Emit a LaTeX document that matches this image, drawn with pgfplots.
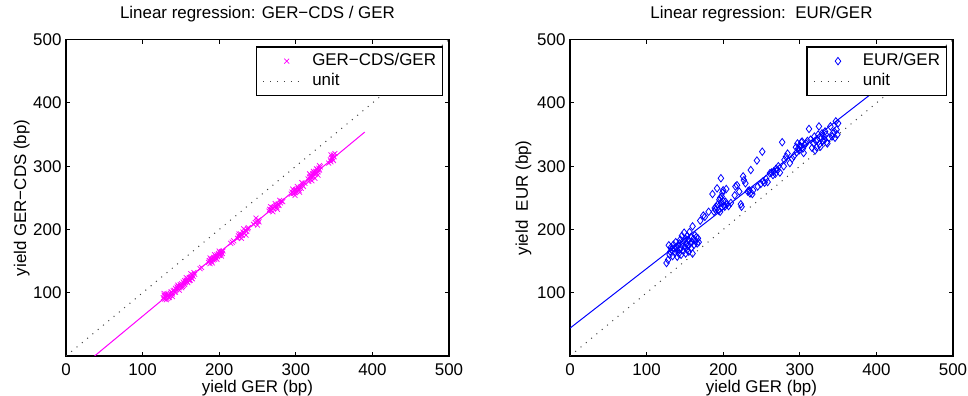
\documentclass[border=0pt]{standalone}
\usepackage{fontspec}
\setmainfont{Liberation Sans}
\usepackage{pgfplots}
\pgfplotsset{compat=1.18}
\definecolor{mmag}{RGB}{255,0,255}
\definecolor{mblue}{RGB}{0,0,255}
\pgfplotsset{
 myaxis/.style={
  scale only axis, width=287.25pt, height=237.2pt,
  xmin=0,xmax=500,ymin=0,ymax=500,
  xtick={0,100,...,500}, ytick={100,200,...,500},
  tick align=inside, major tick length=3pt,
  axis line style={line width=1pt},
  every tick/.style={black, line width=0.75pt},
  /pgf/number format/assume math mode=true,
  xticklabel style={anchor=base, yshift=-15pt, inner sep=0pt},
  yticklabel style={anchor=east, xshift=-3.2pt, inner sep=0pt},
  xlabel style={at={(axis description cs:0.5,-0.1140)}, anchor=base, inner sep=0pt},
  title style={at={(axis description cs:0.5,1.0434)}, anchor=base, inner sep=0pt},
  legend style={at={(axis description cs:1,1)}, anchor=north east, xshift=-4.5pt, yshift=-5pt,
    draw=black, line width=0.9pt, fill=white, inner xsep=4.8pt, inner ysep=4.6pt,
    nodes={inner sep=0pt, text height=9.3pt, text depth=2.7pt},
    row sep=3.3pt, /tikz/every odd column/.style={column sep=6.2pt}, cells={anchor=west}},
  legend cell align=left,
 },
 unitline/.style={black!75, line width=0.75pt, dash pattern=on 0.75pt off 4.4pt,
   legend image code/.code={\draw[##1] (0pt,0pt) -- (30pt,0pt);}},
 xmarks/.style={only marks, color=mmag, mark=x, mark size=2.6pt, mark options={line width=0.55pt},
   legend image code/.code={\path (0pt,0pt) (30pt,0pt); \draw[##1] plot coordinates {(17.5pt,0pt)};}},
 dmarks/.style={only marks, color=mblue, mark=diamond, mark size=2.8pt, mark options={line width=0.6pt},
   legend image code/.code={\path (0pt,0pt) (30pt,0pt); \draw[##1] plot coordinates {(18pt,0pt)};}},
}
\begin{document}
\fontsize{12.7}{15.2}\selectfont
\begin{tikzpicture}
\begin{axis}[myaxis, at={(49.5pt,30pt)}, anchor=south west,
  title={Linear regression: GER−CDS / GER},
  xlabel={yield GER (bp)}, ylabel={yield GER−CDS (bp)},
  ylabel style={at={(axis description cs:-0.1044,0.5)}, anchor=base, inner sep=0pt}]
\addplot[xmarks]
coordinates {
(127,92)(128,96)(129,90)(130,94)(131,98)(132,91)(133,95)(134,97)(135,93)(136,99)(137,96)(138,101)(139,98)(140,103)
(128,99)(131,89)(134,92)(137,101)(139,94)
(141,104)(142,101)(143,107)(144,105)(145,109)(146,106)(147,110)(148,108)(149,113)(150,111)(151,114)(152,110)(153,117)(154,115)(155,119)(156,116)(157,120)(158,118)(159,122)(160,121)(161,124)(162,120)(163,126)(164,123)(165,128)(166,126)(168,129)
(143,101)(146,112)(148,104)(151,108)(153,112)(155,113)(157,124)(159,116)(161,119)(163,130)(165,122)(167,132)
(175,138)(177,140)
(186,148)(187,151)(188,146)(189,153)(190,150)(191,154)(192,152)(193,156)(194,153)(195,158)(196,155)(197,160)(198,157)(199,162)(200,159)(201,163)(202,161)(203,165)(204,162)(205,166)
(188,155)(191,147)(194,160)(197,153)(200,166)(203,158)
(215,178)(217,180)(219,182)
(224,186)(225,190)(227,188)(228,193)(230,191)(231,196)(233,194)(234,199)(236,197)(237,201)(238,203)
(226,193)(229,186)(232,201)(235,191)
(245,208)(247,211)(249,213)(251,215)(252,212)(248,218)(250,207)
(265,229)(266,232)(268,230)(269,235)(271,233)(272,236)(274,238)(275,235)(277,240)(278,238)(280,242)(281,245)(283,244)
(267,236)(270,228)(273,241)(276,232)(279,246)
(294,256)(295,259)(297,257)(298,261)(299,258)(300,263)(301,260)(303,265)(304,262)(306,267)(307,265)(309,270)(310,268)(312,273)
(296,264)(299,254)(302,268)(305,259)(308,274)
(316,280)(317,276)(318,283)(319,279)(320,285)(321,282)(322,288)(323,284)(324,290)(325,287)(326,292)(327,289)(328,295)(329,291)(330,297)(331,294)(332,299)
(318,288)(321,277)(323,292)(325,281)(327,296)(329,286)(331,301)
(343,305)(345,310)(346,307)(347,314)(348,311)(349,318)(350,315)(351,320)(346,318)(349,309)
};
\addlegendentry{GER−CDS/GER}
\addplot[unitline] coordinates {(0,0)(500,500)};
\addlegendentry{unit}
\addplot[forget plot, color=mmag, line width=0.75pt] coordinates {(37.3,0)(390,354)};
\end{axis}
\begin{axis}[myaxis, at={(427.5pt,30pt)}, anchor=south west,
  title={Linear regression:\ \ EUR/GER},
  xlabel={yield GER (bp)}, ylabel={yield\ \ EUR (bp)},
  ylabel style={at={(axis description cs:-0.1097,0.5)}, anchor=base, inner sep=0pt}]
\addplot[dmarks]
coordinates {
(126,147)(128,152)(129,175)(130,160)(131,165)(132,172)(133,168)(134,158)(135,176)(136,170)(137,163)(138,180)(139,172)(140,157)(140,167)(141,175)(142,162)(143,178)(143,168)(144,184)(145,171)(145,160)(146,190)(147,176)(148,166)(148,182)(149,195)(150,172)(151,162)(151,185)(152,178)(153,168)(153,190)(154,174)(155,183)(155,165)(156,196)(157,178)(158,170)(158,188)(159,180)(160,162)(160,205)(161,185)(162,176)(163,191)(164,182)(165,188)(166,178)(167,186)(168,180)
(170,214)(174,222)(176,220)(181,228)(186,256)(188,228)(189,234)(190,231)(191,236)(192,265)(193,240)(194,230)(195,247)(196,250)(196,228)(197,281)(197,242)(198,252)(198,235)(199,258)(200,245)(200,262)(201,238)(202,236)(203,244)(204,264)(205,240)(207,237)(210,242)
(215,254)(216,268)(218,270)(221,260)(223,240)(224,236)(226,284)(227,278)(229,273)(232,260)(234,262)(235,257)(236,294)(238,256)(239,262)(244,309)(245,268)(249,272)(251,323)(252,276)(254,274)(256,280)(258,275)(261,289)(263,290)(265,286)(266,292)(268,288)(269,296)(271,294)(272,300)(274,290)(277,338)(279,300)(280,310)(282,315)(284,320)(287,305)(290,312)(292,316)
(295,330)(296,322)(297,336)(298,328)(299,325)(300,333)(301,331)(302,338)(303,339)(304,328)(305,321)(306,334)(308,336)(310,340)(312,359)(314,342)(316,329)(318,336)(319,347)(320,325)(321,340)(322,330)(323,342)(324,350)(325,363)(326,335)(327,331)(328,345)(329,352)(330,340)(331,348)(332,342)(333,355)(334,350)(335,338)(336,336)(338,345)(340,363)(342,347)(343,352)(345,355)(346,345)(347,371)(348,358)(349,350)(350,368)
};
\addlegendentry{EUR/GER}
\addplot[unitline] coordinates {(0,0)(500,500)};
\addlegendentry{unit}
\addplot[forget plot, color=mblue, line width=0.75pt] coordinates {(0,44)(420,439.6)};
\end{axis}
\pgfresetboundingbox
\path[use as bounding box] (0,0) rectangle (726pt,297pt);
\end{tikzpicture}
\end{document}
